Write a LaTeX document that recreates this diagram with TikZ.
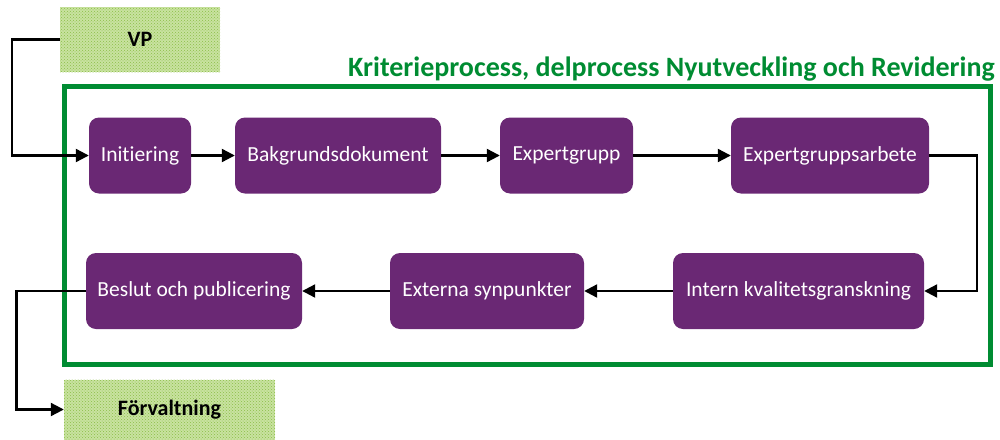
\documentclass[tikz,border=0pt]{standalone}
\usepackage{fontspec}
\setmainfont{Carlito}[Ligatures=NoCommon]
\usetikzlibrary{arrows.meta,patterns}
\definecolor{procpurple}{RGB}{106,40,116}
\definecolor{framegreen}{RGB}{0,140,50}
\definecolor{patbg}{RGB}{200,226,160}
\definecolor{patfg}{RGB}{140,190,70}
\tikzset{
  procbox/.style={fill=procpurple, rounded corners=10pt, text=white, minimum height=76pt, inner sep=0pt, font=\fontsize{21.5}{24}\selectfont},
  extbox/.style={preaction={fill=patbg}, pattern=crosshatch dots, pattern color=patfg, inner sep=0pt, font=\bfseries\fontsize{22}{24}\selectfont},
  flow/.style={line width=2.2pt, -{Triangle[length=13pt,width=13pt]}},
}
\begin{document}
\begin{tikzpicture}[x=1pt,y=-1pt]
\useasboundingbox (0,0) rectangle (1000,439);
% frame
\draw[framegreen, line width=5pt] (64.5,86) rectangle (990.5,364.5);
\node[text=framegreen, font=\bfseries\fontsize{28}{30}\selectfont, anchor=base east, inner sep=0pt] (title) at (995,76) {Kriterieprocess, delprocess Nyutveckling och Revidering};
% external boxes
\node[extbox, minimum width=160pt, minimum height=65pt] (vp) at (140,39.5) {VP};
\node[extbox, minimum width=211pt, minimum height=60pt] (forv) at (169.5,409.5) {Förvaltning};
% process boxes
\node[procbox, minimum width=102pt] (init) at (140,155.5) {Initiering};
\node[procbox, minimum width=206pt] (bak) at (338,155.5) {Bakgrundsdokument};
\node[procbox, minimum width=133pt] (exp) at (566.5,155.5) {Expertgrupp};
\node[procbox, minimum width=198pt] (arb) at (830,155.5) {Expertgruppsarbete};
\node[procbox, minimum width=216pt] (beslut) at (194,291) {Beslut och publicering};
\node[procbox, minimum width=194pt] (ext) at (487,291) {Externa synpunkter};
\node[procbox, minimum width=251pt] (intern) at (798.5,291) {Intern kvalitetsgranskning};
% connectors
\draw[flow] (vp.west) -- (12,39.5) |- (init.west);
\draw[flow] (init) -- (bak);
\draw[flow] (bak) -- (exp);
\draw[flow] (exp) -- (arb);
\draw[flow] (arb.east) -- (977,155.5) |- (intern.east);
\draw[flow] (intern) -- (ext);
\draw[flow] (ext) -- (beslut);
\draw[flow] (beslut.west) -- (16.5,291) |- (forv.west);
\end{tikzpicture}
\end{document}
